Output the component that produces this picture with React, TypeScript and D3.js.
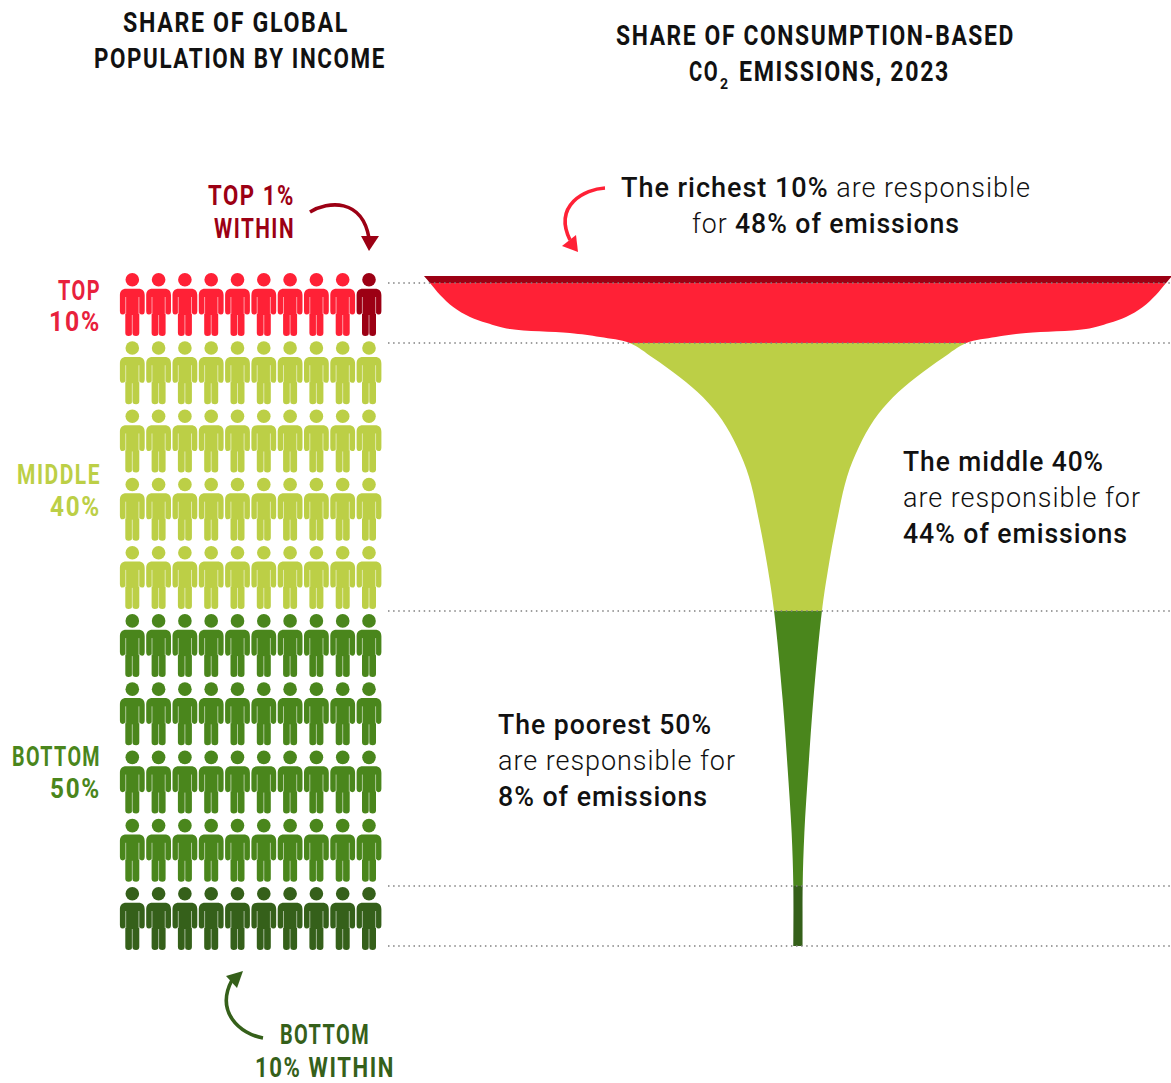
import React from 'react';
import * as d3 from 'd3';

const WIDTH = 1171;
const HEIGHT = 1083;

// cumulative share of the population, top to bottom
const popBreaks = [0, 1, 10, 50, 90, 100];
const popBreakY = [276, 283, 343, 611, 886, 946];

// funnel outline: population share -> half width (% of the widest point)
const funnelPop = [0, 1, 2.8, 4.6, 6.1, 7, 7.9, 8.5, 9.1, 10, 12.2, 15.1, 18.1, 21.5, 25.5, 30, 36.9, 43.9, 50, 62.9, 72.7, 82.3, 90, 100];
const funnelWidth = [100, 98.4, 95.7, 92.2, 87.7, 83.2, 77, 61, 52.9, 45, 38.8, 31.6, 25.4, 20.3, 16.3, 13.1, 10.3, 8, 6.4, 4.1, 2.8, 1.7, 1.25, 1.25];

const bandNames = ['top1', 'top10', 'middle40', 'bottom40', 'bottom10'];
const bandColors = ['#9c0014', '#ff2136', '#bccf46', '#4a861c', '#35601a'];

const columns = d3.range(10);
const rowBands = ['top10', 'middle40', 'middle40', 'middle40', 'middle40', 'bottom40', 'bottom40', 'bottom40', 'bottom40', 'bottom10'];

const colorOf = d3.scaleOrdinal<string, string>().domain(bandNames).range(bandColors);

const y = d3.scaleLinear().domain(popBreaks).range(popBreakY);
const halfWidth = d3.scaleLinear().domain([0, 100]).range([0, 374]);
const CENTER = 798;

const colX = d3.scalePoint<number>().domain(columns).range([132.3, 369]);
const rowY = d3.scalePoint<number>().domain(d3.range(rowBands.length)).range([273, 887]);

const funnelRows = funnelPop.map((p, i) => ({ p, w: funnelWidth[i] }));
const funnelArea = d3
  .area<{ p: number; w: number }>()
  .y((d) => y(d.p))
  .x0((d) => CENTER - halfWidth(d.w))
  .x1((d) => CENTER + halfWidth(d.w))
  .curve(d3.curveCatmullRom.alpha(0.5));

const PERSON_BODY =
  'M-6,15.7H6C10.4,15.7 12.4,18 12.4,22.5V38Q12.4,41.6 9.8,41.6Q8,41.6 7,40V60Q7,63 3.8,63Q0,63 0,60Q0,63 -3.8,63Q-7,63 -7,60V40Q-8,41.6 -9.8,41.6Q-12.4,41.6 -12.4,38V22.5C-12.4,18 -10.4,15.7 -6,15.7Z';
const PERSON_SLITS = 'M-6.6,24V41M6.6,24V41M0,42V62';

const Person = ({ x, top, fill }: { x: number; top: number; fill: string }) => (
  <g transform={`translate(${x},${top})`} fill={fill}>
    <circle cy={6.8} r={6.8} />
    <path d={PERSON_BODY} />
    <path d={PERSON_SLITS} fill="none" stroke="#fff" strokeOpacity={0.55} strokeWidth={1} />
  </g>
);

const FONT = "Roboto, 'Liberation Sans', sans-serif";

const Label = ({ x, y, w, size, weight = 700, fill = '#111', children }: any) => (
  <text
    x={x}
    y={y}
    textLength={w}
    lengthAdjust="spacingAndGlyphs"
    fontFamily={FONT}
    fontSize={size}
    fontWeight={weight}
    letterSpacing={1}
    fill={fill}
  >
    {children}
  </text>
);

// the all-caps headings are narrow letters set wide
const Caps = ({ x, y, w, fill = '#111', children }: any) => (
  <text
    x={x}
    y={y}
    textLength={w}
    lengthAdjust="spacingAndGlyphs"
    fontFamily={FONT}
    fontSize={28}
    fontWeight={700}
    letterSpacing={2}
    fill={fill}
  >
    {children}
  </text>
);

const Light = ({ children }: any) => <tspan fontWeight={300}>{children}</tspan>;

const App = () => {
  return (
    <svg
      width={WIDTH}
      height={HEIGHT}
      viewBox={`0 0 ${WIDTH} ${HEIGHT}`}
      style={{ position: 'absolute', left: 0, top: 0, background: '#fff' }}
    >
      <defs>
        {bandNames.map((name, i) => (
          <clipPath id={`band-${name}`} key={name}>
            <rect x={0} y={y(popBreaks[i])} width={WIDTH} height={y(popBreaks[i + 1]) - y(popBreaks[i])} />
          </clipPath>
        ))}
      </defs>

      {/* titles */}
      <Caps x={123} y={32} w={226}>SHARE OF GLOBAL</Caps>
      <Caps x={94} y={68} w={292}>POPULATION BY INCOME</Caps>
      <Caps x={616} y={45} w={399}>SHARE OF CONSUMPTION-BASED</Caps>
      <Caps x={689} y={81} w={30}>CO</Caps>
      <text x={720} y={89} fontFamily={FONT} fontSize={14} fontWeight={700} fill="#111">2</text>
      <Caps x={739} y={81} w={211}>EMISSIONS, 2023</Caps>

      {/* funnel */}
      {bandNames.map((name) => (
        <path key={name} d={funnelArea(funnelRows)!} fill={colorOf(name)} clipPath={`url(#band-${name})`} />
      ))}

      {/* dotted guides */}
      {popBreaks.slice(1).map((p) => (
        <line
          key={p}
          x1={388}
          x2={WIDTH}
          y1={y(p)}
          y2={y(p)}
          stroke="#808080"
          strokeWidth={1.5}
          strokeDasharray="1.5 3.6"
        />
      ))}

      {/* people */}
      {rowBands.map((band, r) =>
        columns.map((c) => (
          <Person
            key={`${r}-${c}`}
            x={colX(c)!}
            top={rowY(r)!}
            fill={colorOf(r === 0 && c === columns.length - 1 ? 'top1' : band)}
          />
        ))
      )}

      {/* group labels */}
      <Caps x={58} y={300} w={43} fill="#e8213c">TOP</Caps>
      <Caps x={49} y={331} w={52} fill="#e8213c">10%</Caps>
      <Caps x={17} y={484} w={84} fill="#bccf46">MIDDLE</Caps>
      <Caps x={50} y={516} w={51} fill="#bccf46">40%</Caps>
      <Caps x={12} y={766} w={89} fill="#4a861c">BOTTOM</Caps>
      <Caps x={50} y={798} w={51} fill="#4a861c">50%</Caps>

      {/* callouts */}
      <Caps x={208} y={205} w={87} fill="#9c0014">TOP 1%</Caps>
      <Caps x={214} y={238} w={81} fill="#9c0014">WITHIN</Caps>
      <path d="M310,212C328,201 362,198 369,238" fill="none" stroke="#9c0014" strokeWidth={3.6} />
      <path d="M361,236L379,236L369,251Z" fill="#9c0014" />

      <Caps x={280} y={1044} w={90} fill="#35601a">BOTTOM</Caps>
      <Caps x={255} y={1077} w={140} fill="#35601a">10% WITHIN</Caps>
      <path d="M263,1038C240,1034 215,1012 232,980" fill="none" stroke="#35601a" strokeWidth={3.6} />
      <path d="M243,971L226,976L237,988Z" fill="#35601a" />

      <path d="M605,188C585,189 553,205 570,240" fill="none" stroke="#ff2136" strokeWidth={3.6} />
      <path d="M562,246L576,235L578,252Z" fill="#ff2136" />

      {/* annotations */}
      <Label x={621} y={197} w={410} size={28} weight={500}>
        The richest 10% <Light>are responsible</Light>
      </Label>
      <Label x={692} y={233} w={268} size={28} weight={500}>
        <Light>for </Light>48% of emissions
      </Label>
      <Label x={903} y={471} w={201} size={28} weight={500}>The middle 40%</Label>
      <Label x={903} y={507} w={238} size={28} weight={300}>are responsible for</Label>
      <Label x={903} y={543} w={225} size={28} weight={500}>44% of emissions</Label>
      <Label x={498} y={734} w={214} size={28} weight={500}>The poorest 50%</Label>
      <Label x={498} y={770} w={238} size={28} weight={300}>are responsible for</Label>
      <Label x={498} y={806} w={210} size={28} weight={500}>8% of emissions</Label>
    </svg>
  );
};

export default App;
